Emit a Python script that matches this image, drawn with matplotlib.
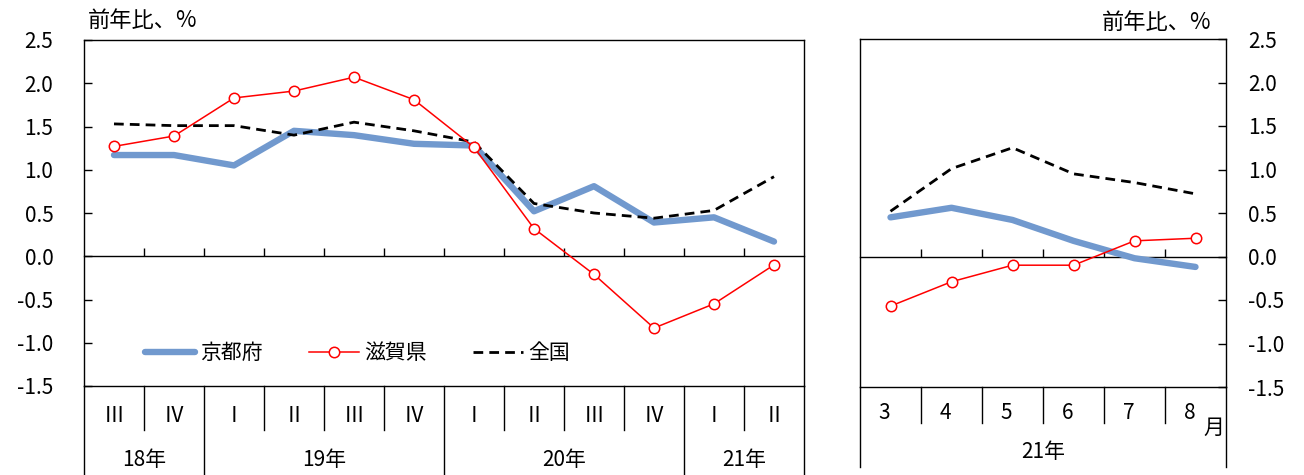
import numpy as np
import matplotlib
matplotlib.use("Agg")
import matplotlib.pyplot as plt

plt.rcParams['font.family'] = ['Noto Sans CJK JP', 'DejaVu Sans']

# quarterly data (18年III - 21年II)
quarters = ['Ⅲ', 'Ⅳ', 'Ⅰ', 'Ⅱ', 'Ⅲ', 'Ⅳ', 'Ⅰ', 'Ⅱ', 'Ⅲ', 'Ⅳ', 'Ⅰ', 'Ⅱ']
years_q = ['18年', '19年', '20年', '21年']
years_q_pos = [0.5, 3.5, 7.5, 10.5]
year_breaks_q = [1.5, 5.5, 9.5]
kyoto_q = [1.17, 1.17, 1.05, 1.45, 1.40, 1.30, 1.28, 0.52, 0.81, 0.39, 0.45, 0.17]
shiga_q = [1.27, 1.39, 1.83, 1.91, 2.07, 1.81, 1.26, 0.32, -0.21, -0.83, -0.55, -0.10]
zenkoku_q = [1.53, 1.51, 1.51, 1.40, 1.55, 1.45, 1.32, 0.61, 0.50, 0.44, 0.53, 0.92]

# monthly data (21年3月 - 8月)
months = ['3', '4', '5', '6', '7', '8']
kyoto_m = [0.45, 0.56, 0.42, 0.18, -0.02, -0.12]
shiga_m = [-0.57, -0.29, -0.10, -0.10, 0.18, 0.21]
zenkoku_m = [0.52, 1.01, 1.25, 0.95, 0.85, 0.72]

yticks = [2.5, 2.0, 1.5, 1.0, 0.5, 0.0, -0.5, -1.0, -1.5]

BLUE = '#7199CE'
FS = 15

W, H = 1304, 475
fig = plt.figure(figsize=(W / 100, H / 100), dpi=100)
ax1 = fig.add_axes([84 / W, (H - 386) / H, 720 / W, 346 / H])
ax2 = fig.add_axes([860 / W, (H - 387) / H, 366 / W, 348 / H])


def draw_series(ax, kyoto, shiga, zen):
    x = np.arange(len(kyoto))
    l1, = ax.plot(x, kyoto, color=BLUE, lw=4.6, solid_capstyle='round', zorder=3, label='京都府')
    l3, = ax.plot(x, zen, color='black', lw=2.0, dashes=(3.5, 2.2), zorder=4, label='全国')
    l2, = ax.plot(x, shiga, color='red', lw=1.1, marker='o', ms=7.5, mfc='white',
                  mec='red', mew=1.1, zorder=5, label='滋賀県')
    return l1, l2, l3


def setup_axes(ax, n, right=False):
    ax.set_xlim(-0.5, n - 0.5)
    ax.set_ylim(-1.5, 2.5)
    ax.set_yticks(yticks)
    ax.set_yticklabels([f'{v:.1f}' for v in yticks], fontsize=FS)
    ax.spines['bottom'].set_position(('data', 0))
    for s in ax.spines.values():
        s.set_linewidth(1.0)
    ax.set_xticks(np.arange(0.5, n - 1, 1.0))
    ax.set_xticklabels([])
    ax.tick_params(axis='x', direction='in', length=6, width=1)
    if right:
        ax.yaxis.tick_right()
        ax.tick_params(axis='y', direction='in', length=6, width=1, pad=16,
                       labelright=True, labelleft=False)
    else:
        ax.tick_params(axis='y', direction='in', length=6, width=1, pad=22)
    # bottom frame line
    tr = ax.get_xaxis_transform()
    ax.plot([-0.5, n - 0.5], [0, 0], color='black', lw=1.0, transform=tr, clip_on=False)


# left panel
h1, h2, h3 = draw_series(ax1, kyoto_q, shiga_q, zenkoku_q)
setup_axes(ax1, 12)
tr1 = ax1.get_xaxis_transform()
row1 = -44 / 346
row2 = -89 / 346
for i, q in enumerate(quarters):
    ax1.text(i, -30 / 346, q, transform=tr1, ha='center', va='center', fontsize=FS)
for b in np.arange(0.5, 11, 1.0):
    bottom = row2 if b in year_breaks_q else row1
    ax1.plot([b, b], [0, bottom], color='black', lw=1.0, transform=tr1, clip_on=False)
for b in [-0.5, 11.5]:
    ax1.plot([b, b], [0, row2], color='black', lw=1.0, transform=tr1, clip_on=False)
for p, y in zip(years_q_pos, years_q):
    ax1.text(p, -74 / 346, y, transform=tr1, ha='center', va='center', fontsize=FS)
fig.text(88 / W, 1 - 20 / H, '前年比、%', ha='left', va='center', fontsize=16)

ax1.legend([h1, h2, h3], ['京都府', '滋賀県', '全国'], loc='center left',
           bbox_to_anchor=(0.085, 0.095), ncol=3, frameon=False, fontsize=FS,
           handlelength=2.4, handletextpad=0.25, columnspacing=2.2,
           borderpad=0, borderaxespad=0)

# right panel
draw_series(ax2, kyoto_m, shiga_m, zenkoku_m)
setup_axes(ax2, 6, right=True)
tr2 = ax2.get_xaxis_transform()
mrow1 = -36 / 348
mrow2 = -80 / 348
for i, m in enumerate(months):
    ax2.text(i - 0.1, -26 / 348, m, transform=tr2, ha='center', va='center', fontsize=FS)
for b in np.arange(0.5, 5, 1.0):
    ax2.plot([b, b], [0, mrow1], color='black', lw=1.0, transform=tr2, clip_on=False)
for b in [-0.5, 5.5]:
    ax2.plot([b, b], [0, mrow2], color='black', lw=1.0, transform=tr2, clip_on=False)
ax2.text(2.5, -65 / 348, '21年', transform=tr2, ha='center', va='center', fontsize=FS)
ax2.text(5.3, -41 / 348, '月', transform=tr2, ha='center', va='center', fontsize=FS)
fig.text(1211 / W, 1 - 22 / H, '前年比、%', ha='right', va='center', fontsize=16)

fig.savefig('out.png', dpi=100)
